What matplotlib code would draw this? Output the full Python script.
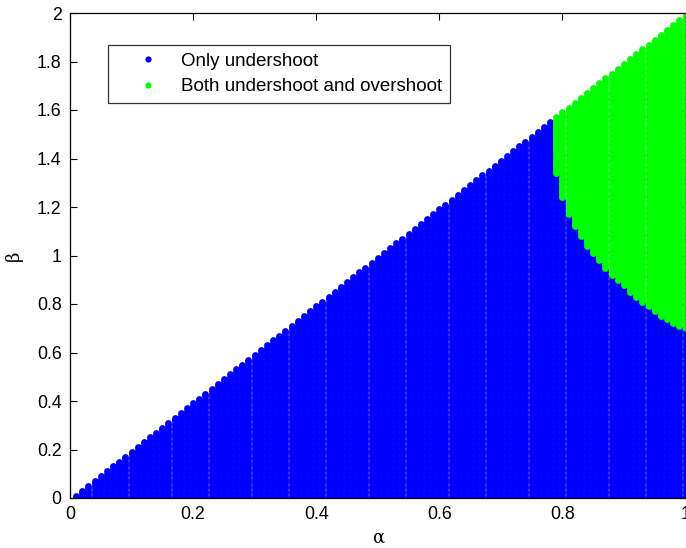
import numpy as np
import matplotlib
matplotlib.use("Agg")
import matplotlib.pyplot as plt
from matplotlib.lines import Line2D

plt.rcParams['font.family'] = ['Liberation Sans', 'DejaVu Sans']

# parameter grid
alpha_values = np.round(np.arange(0.01, 1.0001, 0.01), 2)
beta_step = 0.01

# lowest beta at which both undershoot and overshoot occur, per alpha column
overshoot_alpha = [0.79, 0.80, 0.81, 0.82, 0.83, 0.84, 0.85, 0.86, 0.87, 0.88, 0.89,
                   0.90, 0.91, 0.92, 0.93, 0.94, 0.95, 0.96, 0.97, 0.98, 0.99, 1.00]
overshoot_beta_min = [1.34, 1.24, 1.17, 1.12, 1.08, 1.04, 1.01, 0.98, 0.95, 0.92, 0.90,
                      0.88, 0.85, 0.83, 0.81, 0.79, 0.77, 0.75, 0.74, 0.72, 0.71, 0.70]

labels = ['Only undershoot', 'Both undershoot and overshoot']
colors = ['#0000ff', '#00ff00']

# classify every (alpha, beta) point of the admissible region beta < 2*alpha
limit = dict(zip(overshoot_alpha, overshoot_beta_min))
under_a, under_b, both_a, both_b = [], [], [], []
for a in alpha_values:
    n = int(np.ceil(round(2 * a / beta_step, 6)))
    betas = np.round(np.arange(n) * beta_step, 2)
    betas = betas[betas < 2 * a - 1e-9]
    bmin = limit.get(float(a), np.inf)
    for b in betas:
        if b >= bmin - 1e-9:
            both_a.append(a); both_b.append(b)
        else:
            under_a.append(a); under_b.append(b)

W, H = 686, 548
fig = plt.figure(figsize=(W / 100, H / 100), dpi=100)
ax = fig.add_axes([70 / W, (H - 498) / H, 615.5 / W, 485 / H])

ms = 4.9
ax.scatter(under_a, under_b, s=ms ** 2, c=colors[0], marker='o', linewidths=0, zorder=2)
ax.scatter(both_a, both_b, s=ms ** 2, c=colors[1], marker='o', linewidths=0, zorder=3)

ax.set_xlim(0, 1)
ax.set_ylim(0, 2)
ax.set_xticks([0, 0.2, 0.4, 0.6, 0.8, 1])
ax.set_xticklabels(['0', '0.2', '0.4', '0.6', '0.8', '1'])
ax.set_yticks(np.round(np.arange(0, 2.01, 0.2), 1))
ax.set_yticklabels(['0', '0.2', '0.4', '0.6', '0.8', '1', '1.2', '1.4', '1.6', '1.8', '2'])
ax.tick_params(direction='in', length=5, width=0.8, labelsize=12.8, pad=6,
               top=True, right=True, colors='black')
for sp in ax.spines.values():
    sp.set_linewidth(0.9)
    sp.set_zorder(5)

ax.set_xlabel('α', fontsize=13, family=['DejaVu Serif'], labelpad=4)
ax.set_ylabel('β', fontsize=13, family=['DejaVu Serif'], labelpad=10)

handles = [Line2D([], [], linestyle='none', marker='o', markersize=4.5,
                  markerfacecolor=c, markeredgewidth=0) for c in colors]
leg = fig.legend(handles, labels, loc='upper left',
                 bbox_to_anchor=(108 / W, 1 - 44.7 / H), bbox_transform=fig.transFigure,
                 borderaxespad=0, fontsize=13.5, frameon=True, fancybox=False,
                 handlelength=3.4, handletextpad=0.05, borderpad=0.42, labelspacing=0.45)
leg.get_frame().set_edgecolor('black')
leg.get_frame().set_linewidth(0.9)

fig.savefig('out.png', dpi=100)
